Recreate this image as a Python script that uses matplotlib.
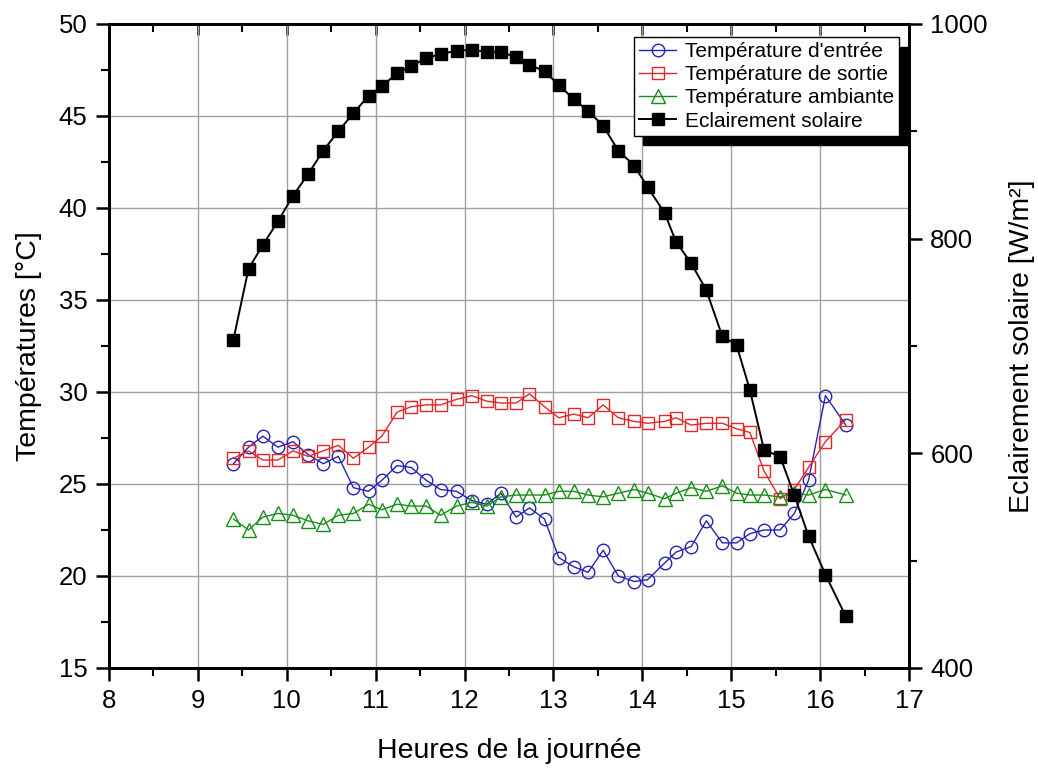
import numpy as np
import matplotlib
matplotlib.use("Agg")
import matplotlib.pyplot as plt
from matplotlib.ticker import MultipleLocator

plt.rcParams['font.family'] = ['Liberation Sans', 'DejaVu Sans']

# --- Data ---
heures = [9.40, 9.57, 9.73, 9.90, 10.07, 10.24, 10.41, 10.58, 10.75, 10.92,
          11.07, 11.24, 11.40, 11.57, 11.73, 11.91, 12.08, 12.25, 12.41, 12.58,
          12.73, 12.90, 13.06, 13.23, 13.39, 13.56, 13.73, 13.91, 14.06, 14.25,
          14.38, 14.55, 14.72, 14.90, 15.06, 15.21, 15.37, 15.55, 15.71, 15.87,
          16.06, 16.29]

t_entree = [26.1, 27.0, 27.6, 27.0, 27.3, 26.6, 26.1, 26.5, 24.8, 24.6,
            25.2, 26.0, 25.9, 25.2, 24.7, 24.6, 24.1, 23.9, 24.5, 23.2,
            23.7, 23.1, 21.0, 20.5, 20.2, 21.4, 20.0, 19.7, 19.8, 20.7,
            21.3, 21.6, 23.0, 21.8, 21.8, 22.3, 22.5, 22.5, 23.4, 25.2,
            29.8, 28.2]

t_sortie = [26.4, 26.8, 26.3, 26.3, 26.8, 26.5, 26.8, 27.1, 26.4, 27.0,
            27.6, 28.9, 29.2, 29.3, 29.3, 29.6, 29.8, 29.5, 29.4, 29.4,
            29.9, 29.2, 28.6, 28.8, 28.6, 29.3, 28.6, 28.4, 28.3, 28.4,
            28.6, 28.2, 28.3, 28.3, 28.0, 27.8, 25.7, 24.2, 24.7, 25.9,
            27.3, 28.5]

t_ambiante = [23.1, 22.5, 23.2, 23.4, 23.3, 23.0, 22.8, 23.3, 23.4, 23.9,
              23.6, 23.9, 23.8, 23.8, 23.3, 23.8, 24.0, 23.8, 24.3, 24.4,
              24.4, 24.4, 24.6, 24.6, 24.4, 24.3, 24.5, 24.7, 24.5, 24.2,
              24.5, 24.8, 24.6, 24.9, 24.5, 24.4, 24.4, 24.3, 24.5, 24.4,
              24.7, 24.4]

eclairement = [706, 772, 794, 816, 840, 860, 882, 900, 917, 933,
               942, 954, 961, 968, 972, 975, 976, 974, 974, 969,
               962, 956, 943, 930, 919, 905, 882, 868, 848, 824,
               797, 777, 752, 709, 701, 659, 603, 597, 561, 523,
               487, 448]

# --- Plot ---
fig = plt.figure(figsize=(10.38, 7.71), dpi=100)
ax1 = fig.add_axes([0.105, 0.1336, 0.7707, 0.8353])
ax2 = ax1.twinx()

l1, = ax1.plot(heures, t_entree, '-o', color='#2424b4', lw=1, ms=9,
               mfc='none', mew=1, label="Température d'entrée")
l2, = ax1.plot(heures, t_sortie, '-s', color='#e02828', lw=1, ms=9,
               mfc='none', mew=1, label="Température de sortie")
l3, = ax1.plot(heures, t_ambiante, '-^', color='#178f17', lw=1, ms=10,
               mfc='none', mew=1, label="Température ambiante")
l4, = ax2.plot(heures, eclairement, '-s', color='black', lw=1.4, ms=9,
               label="Eclairement solaire")

ax1.set_xlim(8, 17)
ax1.set_ylim(15, 50)
ax2.set_ylim(400, 1000)

ax1.xaxis.set_major_locator(MultipleLocator(1))
ax1.xaxis.set_minor_locator(MultipleLocator(0.5))
ax1.yaxis.set_major_locator(MultipleLocator(5))
ax1.yaxis.set_minor_locator(MultipleLocator(2.5))
ax2.yaxis.set_major_locator(MultipleLocator(200))
ax2.yaxis.set_minor_locator(MultipleLocator(100))

ax1.grid(True, which='major', color='#a0a0a0', lw=1)
ax1.set_axisbelow(True)

for ax in (ax1, ax2):
    for sp in ax.spines.values():
        sp.set_linewidth(2)
    ax.tick_params(which='major', direction='out', length=9.4, width=1.8,
                   labelsize=18.5, pad=6)
    ax.tick_params(which='minor', direction='out', length=5.5, width=1.5)

top = ax1.secondary_xaxis('top')
top.xaxis.set_major_locator(MultipleLocator(1))
top.xaxis.set_minor_locator(MultipleLocator(0.5))
top.tick_params(which='major', direction='in', length=8, width=1.8, labeltop=False)
top.tick_params(which='minor', direction='in', length=6, width=1.5)

ax1.set_xlabel("Heures de la journée", fontsize=20.5, labelpad=18)
ax1.set_ylabel("Températures [°C]", fontsize=20.5, labelpad=12)
ax2.set_ylabel("Eclairement solaire [W/m²]", fontsize=20.5, labelpad=15)

leg = ax2.legend(handles=[l1, l2, l3, l4], loc='upper right',
                 bbox_to_anchor=(0.9875, 0.980), fontsize=15, fancybox=False,
                 framealpha=1, edgecolor='black', handlelength=1.8,
                 handletextpad=0.4, borderpad=0.25, labelspacing=0.2,
                 borderaxespad=0,
                 shadow={'ox': 7, 'oy': -7, 'color': 'black', 'alpha': 1})
leg.get_frame().set_linewidth(1)

plt.savefig("out.png", dpi=100)
